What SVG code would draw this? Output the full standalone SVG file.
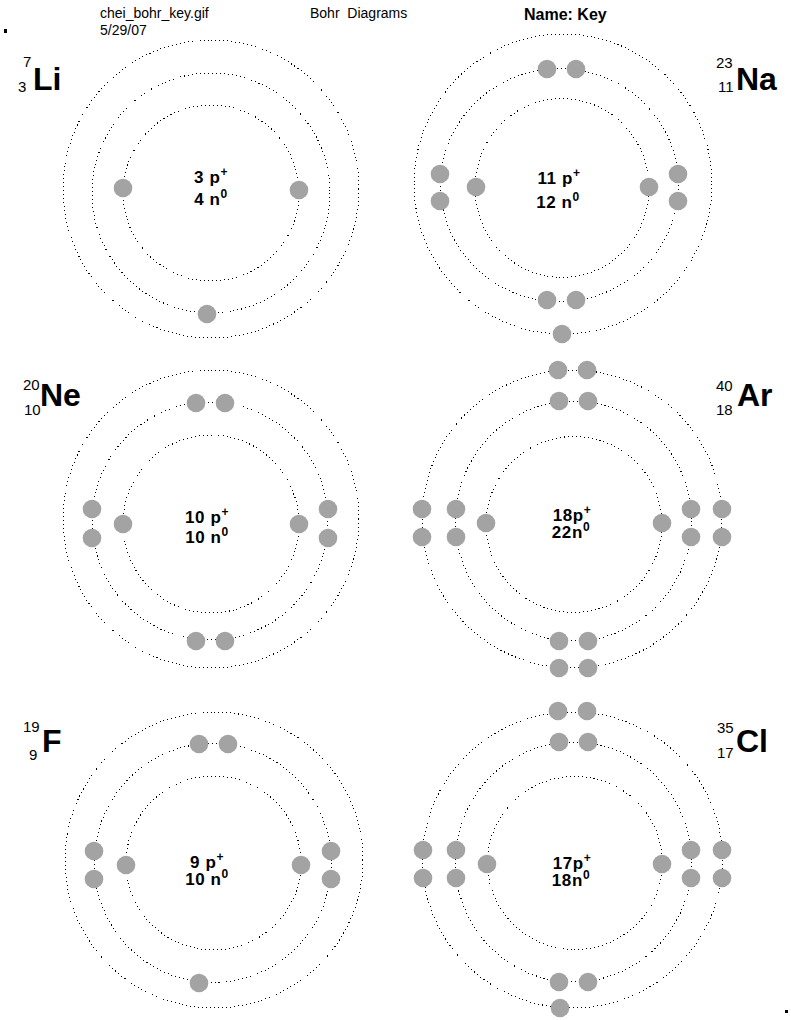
<svg xmlns="http://www.w3.org/2000/svg" width="791" height="1020" viewBox="0 0 791 1020">
<style>
.ring{fill:none;stroke:#000;stroke-width:1;stroke-dasharray:1 3;shape-rendering:crispEdges}
.e{fill:#a3a3a3}
.hd{font-family:"Liberation Sans",Arial,sans-serif;font-size:14px;fill:#000}
.hb{font-family:"Liberation Sans",Arial,sans-serif;font-size:16px;font-weight:bold;fill:#000}
.sym{font-family:"Liberation Sans",Arial,sans-serif;font-size:32px;font-weight:bold;fill:#000}
.idx{font-family:"Liberation Sans",Arial,sans-serif;font-size:15px;fill:#000}
.nuc{font-family:"Liberation Sans",Arial,sans-serif;font-size:17px;font-weight:bold;fill:#000;text-anchor:middle;letter-spacing:0.6px}
.sup{font-size:12px}
</style>
<rect width="791" height="1020" fill="#fff"/>
<g id="header">
<text class="hd" x="100" y="18">chei_bohr_key.gif</text>
<text class="hd" x="100" y="35">5/29/07</text>
<text class="hd" x="310" y="18" xml:space="preserve">Bohr  Diagrams</text>
<text class="hb" x="524" y="20">Name: Key</text>
<rect x="4" y="29" width="3" height="4" fill="#000"/>
<rect x="785" y="1010" width="3" height="3" fill="#000"/>
</g>
<g id="Li">
<ellipse class="ring" cx="211" cy="189" rx="148" ry="149"/>
<ellipse class="ring" cx="211" cy="193" rx="119" ry="120"/>
<ellipse class="ring" cx="211" cy="193" rx="88" ry="88"/>
<circle class="e" cx="123" cy="188" r="9.3"/>
<circle class="e" cx="299" cy="190" r="9.3"/>
<circle class="e" cx="207" cy="314" r="9.3"/>
<text class="nuc" x="211" y="183">3 p<tspan class="sup" dy="-7">+</tspan></text>
<text class="nuc" x="211" y="205">4 n<tspan class="sup" dy="-7">0</tspan></text>
<text class="idx" x="23" y="67">7</text>
<text class="idx" x="18" y="92">3</text>
<text class="sym" x="33" y="90">Li</text>
</g>
<g id="Na">
<ellipse class="ring" cx="563" cy="184" rx="149" ry="150"/>
<ellipse class="ring" cx="559.5" cy="185" rx="119" ry="116.5"/>
<ellipse class="ring" cx="562" cy="188" rx="87" ry="89.5"/>
<circle class="e" cx="547" cy="69" r="9.3"/>
<circle class="e" cx="576" cy="69" r="9.3"/>
<circle class="e" cx="440" cy="174" r="9.3"/>
<circle class="e" cx="440" cy="201" r="9.3"/>
<circle class="e" cx="476" cy="187" r="9.3"/>
<circle class="e" cx="649" cy="187" r="9.3"/>
<circle class="e" cx="678" cy="174" r="9.3"/>
<circle class="e" cx="678" cy="201" r="9.3"/>
<circle class="e" cx="547" cy="300" r="9.3"/>
<circle class="e" cx="576" cy="300" r="9.3"/>
<circle class="e" cx="562" cy="334" r="9.3"/>
<text class="nuc" x="559" y="184">11 p<tspan class="sup" dy="-7">+</tspan></text>
<text class="nuc" x="558" y="208">12 n<tspan class="sup" dy="-7">0</tspan></text>
<text class="idx" x="716" y="68">23</text>
<text class="idx" x="718" y="92">11</text>
<text class="sym" x="736" y="90">Na</text>
</g>
<g id="Ne">
<ellipse class="ring" cx="211" cy="519" rx="148" ry="149"/>
<ellipse class="ring" cx="210" cy="521" rx="118" ry="119"/>
<ellipse class="ring" cx="211" cy="524" rx="88" ry="89"/>
<circle class="e" cx="196" cy="403" r="9.3"/>
<circle class="e" cx="225" cy="403" r="9.3"/>
<circle class="e" cx="92" cy="509" r="9.3"/>
<circle class="e" cx="92" cy="538" r="9.3"/>
<circle class="e" cx="123" cy="524" r="9.3"/>
<circle class="e" cx="299" cy="524" r="9.3"/>
<circle class="e" cx="328" cy="509" r="9.3"/>
<circle class="e" cx="328" cy="538" r="9.3"/>
<circle class="e" cx="196" cy="641" r="9.3"/>
<circle class="e" cx="225" cy="641" r="9.3"/>
<text class="nuc" x="207" y="523">10 p<tspan class="sup" dy="-7">+</tspan></text>
<text class="nuc" x="207" y="543">10 n<tspan class="sup" dy="-7">0</tspan></text>
<text class="idx" x="23" y="390">20</text>
<text class="idx" x="24" y="415">10</text>
<text class="sym" x="40" y="406">Ne</text>
</g>
<g id="Ar">
<ellipse class="ring" cx="572" cy="519" rx="150" ry="149"/>
<ellipse class="ring" cx="573.5" cy="521" rx="118" ry="120"/>
<ellipse class="ring" cx="574" cy="524.5" rx="88" ry="88"/>
<circle class="e" cx="558" cy="370" r="9.3"/>
<circle class="e" cx="587" cy="370" r="9.3"/>
<circle class="e" cx="559" cy="401" r="9.3"/>
<circle class="e" cx="588" cy="401" r="9.3"/>
<circle class="e" cx="422" cy="509" r="9.3"/>
<circle class="e" cx="422" cy="537" r="9.3"/>
<circle class="e" cx="456" cy="509" r="9.3"/>
<circle class="e" cx="456" cy="537" r="9.3"/>
<circle class="e" cx="486" cy="523" r="9.3"/>
<circle class="e" cx="662" cy="523" r="9.3"/>
<circle class="e" cx="691" cy="509" r="9.3"/>
<circle class="e" cx="691" cy="537" r="9.3"/>
<circle class="e" cx="722" cy="509" r="9.3"/>
<circle class="e" cx="722" cy="537" r="9.3"/>
<circle class="e" cx="559" cy="641" r="9.3"/>
<circle class="e" cx="588" cy="641" r="9.3"/>
<circle class="e" cx="559" cy="668" r="9.3"/>
<circle class="e" cx="588" cy="668" r="9.3"/>
<text class="nuc" x="572" y="521">18p<tspan class="sup" dy="-7">+</tspan></text>
<text class="nuc" x="571" y="538">22n<tspan class="sup" dy="-7">0</tspan></text>
<text class="idx" x="716" y="391">40</text>
<text class="idx" x="716" y="415">18</text>
<text class="sym" x="737" y="406">Ar</text>
</g>
<g id="F">
<ellipse class="ring" cx="214" cy="860" rx="149" ry="148"/>
<ellipse class="ring" cx="212.7" cy="863" rx="118.5" ry="119.5"/>
<ellipse class="ring" cx="213.5" cy="863" rx="87.5" ry="87"/>
<circle class="e" cx="199" cy="744" r="9.3"/>
<circle class="e" cx="228" cy="744" r="9.3"/>
<circle class="e" cx="94" cy="851" r="9.3"/>
<circle class="e" cx="94" cy="879" r="9.3"/>
<circle class="e" cx="126" cy="865" r="9.3"/>
<circle class="e" cx="301" cy="865" r="9.3"/>
<circle class="e" cx="331" cy="851" r="9.3"/>
<circle class="e" cx="331" cy="879" r="9.3"/>
<circle class="e" cx="199" cy="983" r="9.3"/>
<text class="nuc" x="207" y="868">9 p<tspan class="sup" dy="-7">+</tspan></text>
<text class="nuc" x="207" y="885">10 n<tspan class="sup" dy="-7">0</tspan></text>
<text class="idx" x="23" y="732">19</text>
<text class="idx" x="29" y="760">9</text>
<text class="sym" x="42" y="752">F</text>
</g>
<g id="Cl">
<ellipse class="ring" cx="572.5" cy="860" rx="150" ry="148"/>
<ellipse class="ring" cx="573.4" cy="862" rx="118" ry="120"/>
<ellipse class="ring" cx="575" cy="863" rx="87.5" ry="86.5"/>
<circle class="e" cx="558" cy="711" r="9.3"/>
<circle class="e" cx="587" cy="711" r="9.3"/>
<circle class="e" cx="559" cy="742" r="9.3"/>
<circle class="e" cx="588" cy="742" r="9.3"/>
<circle class="e" cx="423" cy="850" r="9.3"/>
<circle class="e" cx="423" cy="878" r="9.3"/>
<circle class="e" cx="456" cy="850" r="9.3"/>
<circle class="e" cx="456" cy="878" r="9.3"/>
<circle class="e" cx="487" cy="864" r="9.3"/>
<circle class="e" cx="662" cy="864" r="9.3"/>
<circle class="e" cx="691" cy="850" r="9.3"/>
<circle class="e" cx="691" cy="878" r="9.3"/>
<circle class="e" cx="722" cy="850" r="9.3"/>
<circle class="e" cx="722" cy="878" r="9.3"/>
<circle class="e" cx="559" cy="982" r="9.3"/>
<circle class="e" cx="588" cy="982" r="9.3"/>
<circle class="e" cx="560" cy="1008" r="9.3"/>
<text class="nuc" x="572" y="869">17p<tspan class="sup" dy="-7">+</tspan></text>
<text class="nuc" x="571" y="886">18n<tspan class="sup" dy="-7">0</tspan></text>
<text class="idx" x="717" y="733">35</text>
<text class="idx" x="717" y="758">17</text>
<text class="sym" x="736" y="752">Cl</text>
</g>
</svg>
